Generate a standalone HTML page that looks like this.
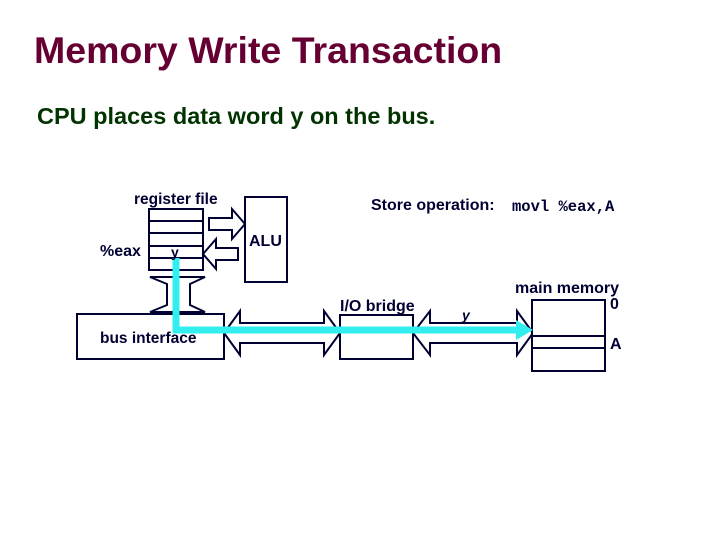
<!DOCTYPE html>
<html><head><style>
body{margin:0;width:720px;height:540px;background:#fff;overflow:hidden;font-family:"Liberation Sans",Arial,sans-serif}
</style></head><body>
<svg width="720" height="540" xmlns="http://www.w3.org/2000/svg" font-family="Liberation Sans, Arial, sans-serif">
<text x="34" y="63" font-size="37.5" font-weight="bold" fill="#660033">Memory Write Transaction</text>
<text x="37" y="124" font-size="23.5" font-weight="bold" fill="#003300">CPU places data word y on the bus.</text>
<g stroke="#000033" stroke-width="2" fill="#fff">
<rect x="149" y="209" width="54" height="61"/>
<line x1="149" y1="221" x2="203" y2="221"/><line x1="149" y1="233" x2="203" y2="233"/>
<line x1="149" y1="246" x2="203" y2="246"/><line x1="149" y1="258" x2="203" y2="258"/>
<rect x="245" y="197" width="42" height="85"/>
<polygon points="209,218 232,218 232,209 245,224 232,239 232,230 209,230"/>
<polygon points="238,248 216,248 216,239 203,254 216,269 216,260 238,260"/>
<polygon points="150,277 205,277 190,284 190,305 205,312 150,312 167,305 167,284"/>
<rect x="77" y="314" width="147" height="45"/>
<polygon points="224,333 240,311 240,323 324,323 324,311 340,333 324,355 324,343 240,343 240,355"/>
<rect x="340" y="315" width="73" height="44"/>
<polygon points="413,333 430,311 430,323 517,323 517,311 533,333 517,355 517,343 430,343 430,355"/>
<rect x="532" y="300" width="73" height="71"/>
<line x1="532" y1="336" x2="605" y2="336"/><line x1="532" y1="348" x2="605" y2="348"/>
</g>
<polyline points="176,258 176,330 520,330" fill="none" stroke="#33EEEE" stroke-width="7"/>
<polygon points="516,320 533,330 516,340" fill="#33EEEE"/>
<g font-size="16" fill="#000033" font-weight="bold">
<text x="134" y="204" font-size="15.5">register file</text>
<text x="100" y="256">%eax</text>
<text x="171" y="257" font-size="14">y</text>
<text x="249" y="246" font-size="16">ALU</text>
<text x="371" y="210">Store operation:</text>
<text x="340" y="311">I/O bridge</text>
<text x="462" y="320" font-style="italic" font-size="14">y</text>
<text x="515" y="293">main memory</text>
<text x="610" y="309">0</text>
<text x="610" y="349">A</text>
<text x="100" y="343" font-size="15.5">bus interface</text>
</g>
<text x="512" y="211" font-family="Liberation Mono, monospace" font-size="15.5" fill="#000033" font-weight="bold">movl %eax,A</text>
</svg>
</body></html>
